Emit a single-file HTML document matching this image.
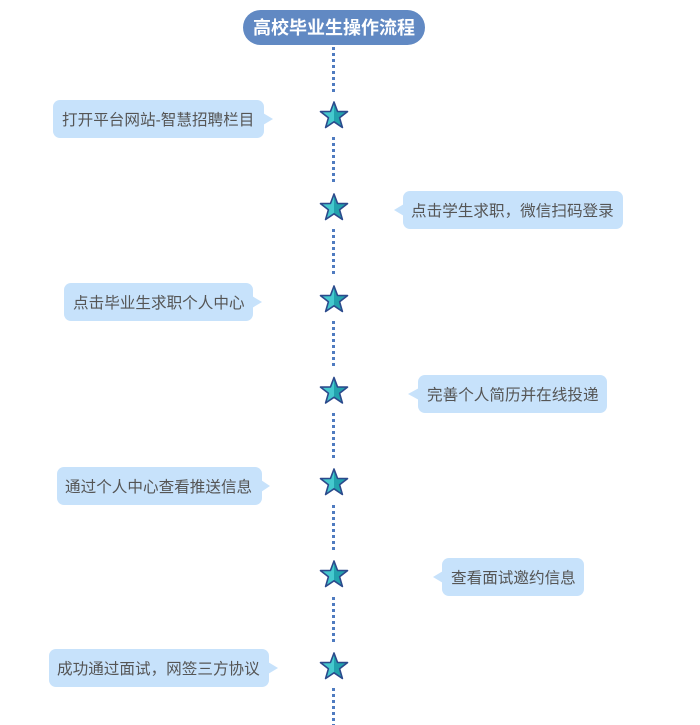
<!DOCTYPE html>
<html><head><meta charset="utf-8">
<style>
html,body{margin:0;padding:0;background:#fff;}
body{width:700px;height:725px;position:relative;overflow:hidden;font-family:"Liberation Sans","Noto Sans CJK SC",sans-serif;}
.title{position:absolute;left:243px;top:10px;width:182px;height:35px;border-radius:18px;background:#6189c3;color:#fff;font-weight:bold;font-size:18px;line-height:35px;text-align:center;letter-spacing:0;}
.title span{position:relative;top:1px;}
.box{position:absolute;height:38px;border-radius:7px;background:#c7e2fb;color:#555;font-size:15.6px;line-height:38px;white-space:nowrap;box-sizing:border-box;}
.box span{position:relative;top:2px;}
svg{position:absolute;left:0;top:0;}
</style></head><body>
<svg width="700" height="725" viewBox="0 0 700 725">
  <g stroke="#4f7bc0" stroke-width="3" stroke-dasharray="3 3" fill="none">
    <line x1="333.5" y1="47" x2="333.5" y2="92"/>
    <line x1="333.5" y1="137" x2="333.5" y2="184"/>
    <line x1="333.5" y1="229" x2="333.5" y2="276"/>
    <line x1="333.5" y1="321" x2="333.5" y2="368"/>
    <line x1="333.5" y1="413" x2="333.5" y2="460"/>
    <line x1="333.5" y1="505" x2="333.5" y2="552"/>
    <line x1="333.5" y1="597" x2="333.5" y2="643"/>
    <line x1="333.5" y1="688" x2="333.5" y2="725"/>
  </g>
  <defs>
    <linearGradient id="sg" x1="0" y1="0" x2="1" y2="0">
      <stop offset="0" stop-color="#45c9ce"/>
      <stop offset="0.5" stop-color="#45c9ce"/>
      <stop offset="0.5" stop-color="#22a2ad"/>
      <stop offset="1" stop-color="#22a2ad"/>
    </linearGradient>
    <polygon id="star" points="0,-14 3.5,-4.6 13.5,-4.4 5.6,1.8 8.4,11.5 0,5.8 -8.4,11.5 -5.6,1.8 -13.5,-4.4 -3.5,-4.6" fill="url(#sg)" stroke="#2b4a8c" stroke-width="1.6" stroke-linejoin="round"/>
  </defs>
  <use href="#star" x="334" y="116"/>
  <use href="#star" x="334" y="208"/>
  <use href="#star" x="334" y="300"/>
  <use href="#star" x="334" y="391.5"/>
  <use href="#star" x="334" y="483"/>
  <use href="#star" x="334" y="575"/>
  <use href="#star" x="334" y="667"/>
  <g fill="#c7e2fb">
    <polygon points="263,113 273,119 263,125"/>
    <polygon points="404,204 394,210 404,216"/>
    <polygon points="252,296 262,302 252,308"/>
    <polygon points="419,388 408,394 419,400"/>
    <polygon points="261,480 270,486 261,492"/>
    <polygon points="443,571 433,577 443,583"/>
    <polygon points="268,662 278,668 268,674"/>
  </g>
</svg>
<div class="title"><span>高校毕业生操作流程</span></div>
<div class="box" style="left:53px;top:100px;width:211px;padding-left:9px;"><span>打开平台网站-智慧招聘栏目</span></div>
<div class="box" style="left:403px;top:191px;width:220px;padding-left:8px;"><span>点击学生求职，微信扫码登录</span></div>
<div class="box" style="left:64px;top:283px;width:189px;padding-left:9px;"><span>点击毕业生求职个人中心</span></div>
<div class="box" style="left:418px;top:375px;width:189px;padding-left:9px;"><span>完善个人简历并在线投递</span></div>
<div class="box" style="left:57px;top:467px;width:205px;padding-left:8px;"><span>通过个人中心查看推送信息</span></div>
<div class="box" style="left:442px;top:558px;width:142px;padding-left:9px;"><span>查看面试邀约信息</span></div>
<div class="box" style="left:49px;top:649px;width:220px;padding-left:8px;"><span>成功通过面试，网签三方协议</span></div>
</body></html>
